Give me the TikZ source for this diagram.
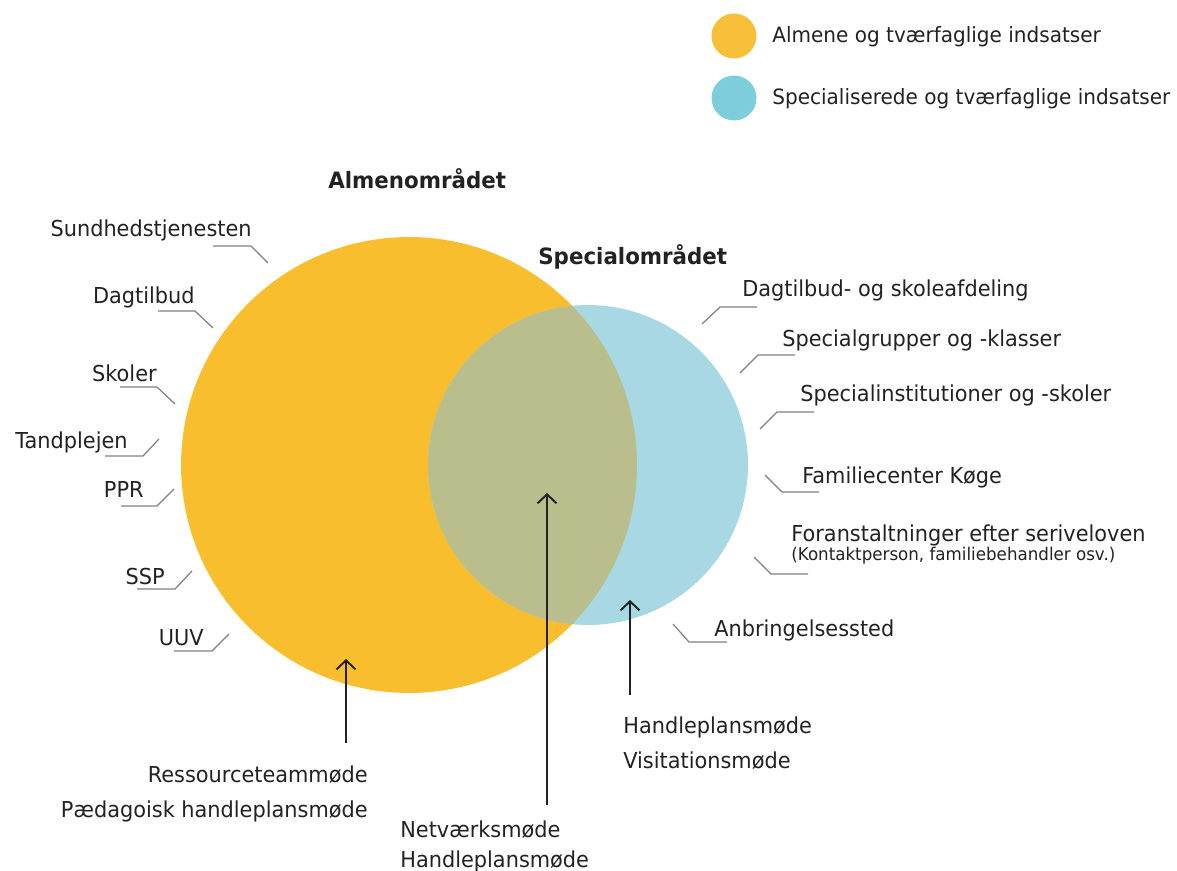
\documentclass[tikz,border=0pt]{standalone}
\usepackage{fontspec}
\setmainfont[FakeStretch=0.95]{DejaVu Sans}
\usetikzlibrary{arrows.meta}
\definecolor{almcol}{HTML}{F8BE2E}
\definecolor{specol}{HTML}{A8D8E4}
\definecolor{bothcol}{HTML}{B9BE8C}
\definecolor{almkey}{HTML}{F8BF3A}
\definecolor{speckey}{HTML}{7DCEDA}
\definecolor{txtcol}{HTML}{222222}
\definecolor{leadcol}{HTML}{808080}
\tikzset{
	labelstyle/.style={font=\fontsize{12.5}{15}\selectfont, text=txtcol, inner sep=0pt},
	keytext/.style={font=\fontsize{12}{15}\selectfont, text=txtcol, inner sep=0pt},
	titlestyle/.style={font=\fontsize{12.8}{15}\selectfont\bfseries, text=txtcol, inner sep=0pt},
	notestyle/.style={font=\fontsize{10}{12}\selectfont, text=txtcol, inner sep=0pt},
	leader/.style={draw=leadcol, line width=0.7pt},
	meetarrow/.style={draw=txtcol, line width=1.1pt, -{Straight Barb[length=1.8mm, width=3.8mm]}},
	keystyle/.style={circle, minimum size=0.9cm, inner sep=0pt}
}

\begin{document}
\begin{tikzpicture}[x=0.02cm, y=-0.02cm]

\def\almr{4.56cm}
\def\specr{3.2cm}

\useasboundingbox (0,0) rectangle (1177,871);

% the two areas
\coordinate (alm) at (409,465);
\coordinate (spec) at (588,465);
\fill[almcol] (alm) circle[radius=\almr];
\fill[specol] (spec) circle[radius=\specr];
\begin{scope}
	\clip (alm) circle[radius=\almr];
	\fill[bothcol] (spec) circle[radius=\specr];
\end{scope}

% key
\node[keystyle, fill=almkey] (key1) at (734,36) {};
\node[keystyle, fill=speckey] (key2) at (734,98) {};
\node[keytext, anchor=base west] (keytxt1) at (772,43) {Almene og tværfaglige indsatser};
\node[keytext, anchor=base west] (keytxt2) at (772,105) {Specialiserede og tværfaglige indsatser};

\node[titlestyle, anchor=base west] (almtitle) at (328,189) {Almenområdet};
\node[titlestyle, anchor=base west] (spectitle) at (538,265) {Specialområdet};

% left side
\node[labelstyle, anchor=base east] (sund) at (252,237) {Sundhedstjenesten};
\node[labelstyle, anchor=base east] (dag) at (195,304) {Dagtilbud};
\node[labelstyle, anchor=base east] (skol) at (157,382) {Skoler};
\node[labelstyle, anchor=base east] (tand) at (128,449) {Tandplejen};
\node[labelstyle, anchor=base east] (ppr) at (144,498) {PPR};
\node[labelstyle, anchor=base east] (ssp) at (165,584) {SSP};
\node[labelstyle, anchor=base east] (uuv) at (204,645) {UUV};

\draw[leader] (sund.base east) ++(-39,9) -- ++(38,0) -- ++(17,17);
\draw[leader] (dag.base east) ++(-37,7) -- ++(37,0) -- ++(18,17);
\draw[leader] (skol.base east) ++(-37,5) -- ++(37,0) -- ++(18,17);
\draw[leader] (tand.base east) ++(-23,7) -- ++(38,0) -- ++(16,-17);
\draw[leader] (ppr.base east) ++(-23,8) -- ++(36,0) -- ++(17,-17);
\draw[leader] (ssp.base east) ++(-28,5) -- ++(38,0) -- ++(17,-18);
\draw[leader] (uuv.base east) ++(-30,6) -- ++(38,0) -- ++(17,-17);

% right side
\node[labelstyle, anchor=base west] (dagskol) at (742,297) {Dagtilbud- og skoleafdeling};
\node[labelstyle, anchor=base west] (grp) at (782,347) {Specialgrupper og -klasser};
\node[labelstyle, anchor=base west] (inst) at (800,402) {Specialinstitutioner og -skoler};
\node[labelstyle, anchor=base west] (famc) at (802,483) {Familiecenter Køge};
\node[labelstyle, anchor=base west] (foran) at (791,541) {Foranstaltninger efter seriveloven};
\node[notestyle, anchor=base west] (foranx) at (791,561) {(Kontaktperson, familiebehandler osv.)};
\node[labelstyle, anchor=base west] (anbr) at (714,636) {Anbringelsessted};

\draw[leader] (dagskol.base west) ++(15,10) -- ++(-37,0) -- ++(-18,17);
\draw[leader] (grp.base west) ++(13,8) -- ++(-37,0) -- ++(-18,18);
\draw[leader] (inst.base west) ++(14,10) -- ++(-37,0) -- ++(-17,17);
\draw[leader] (famc.base west) ++(17,9) -- ++(-37,0) -- ++(-17,-17);
\draw[leader] (foranx.base west) ++(17,13) -- ++(-37,0) -- ++(-17,-17);
\draw[leader] (anbr.base west) ++(13,6) -- ++(-38,0) -- ++(-16,-18);

% meetings
\node[labelstyle, font=\fontsize{12.5}{19.8}\selectfont, align=right, anchor=base east] (ress) at (368,817) {Ressourceteammøde\\Pædagoisk handleplansmøde};
\node[labelstyle, font=\fontsize{12.5}{17}\selectfont, align=left, anchor=base west] (netv) at (400,867) {Netværksmøde\\Handleplansmøde};
\node[labelstyle, font=\fontsize{12.5}{19.8}\selectfont, align=left, anchor=base west] (hand) at (623,768) {Handleplansmøde\\Visitationsmøde};

\coordinate (almtip) at (346,659);
\coordinate (midtip) at (547,493);
\coordinate (spectip) at (630,600);

\draw[meetarrow] ([yshift=0.44cm]ress.north -| almtip) -- (almtip);
\draw[meetarrow] ([yshift=0.3cm]netv.north -| midtip) -- (midtip);
\draw[meetarrow] ([yshift=0.42cm]hand.north -| spectip) -- (spectip);
\end{tikzpicture}
\end{document}
